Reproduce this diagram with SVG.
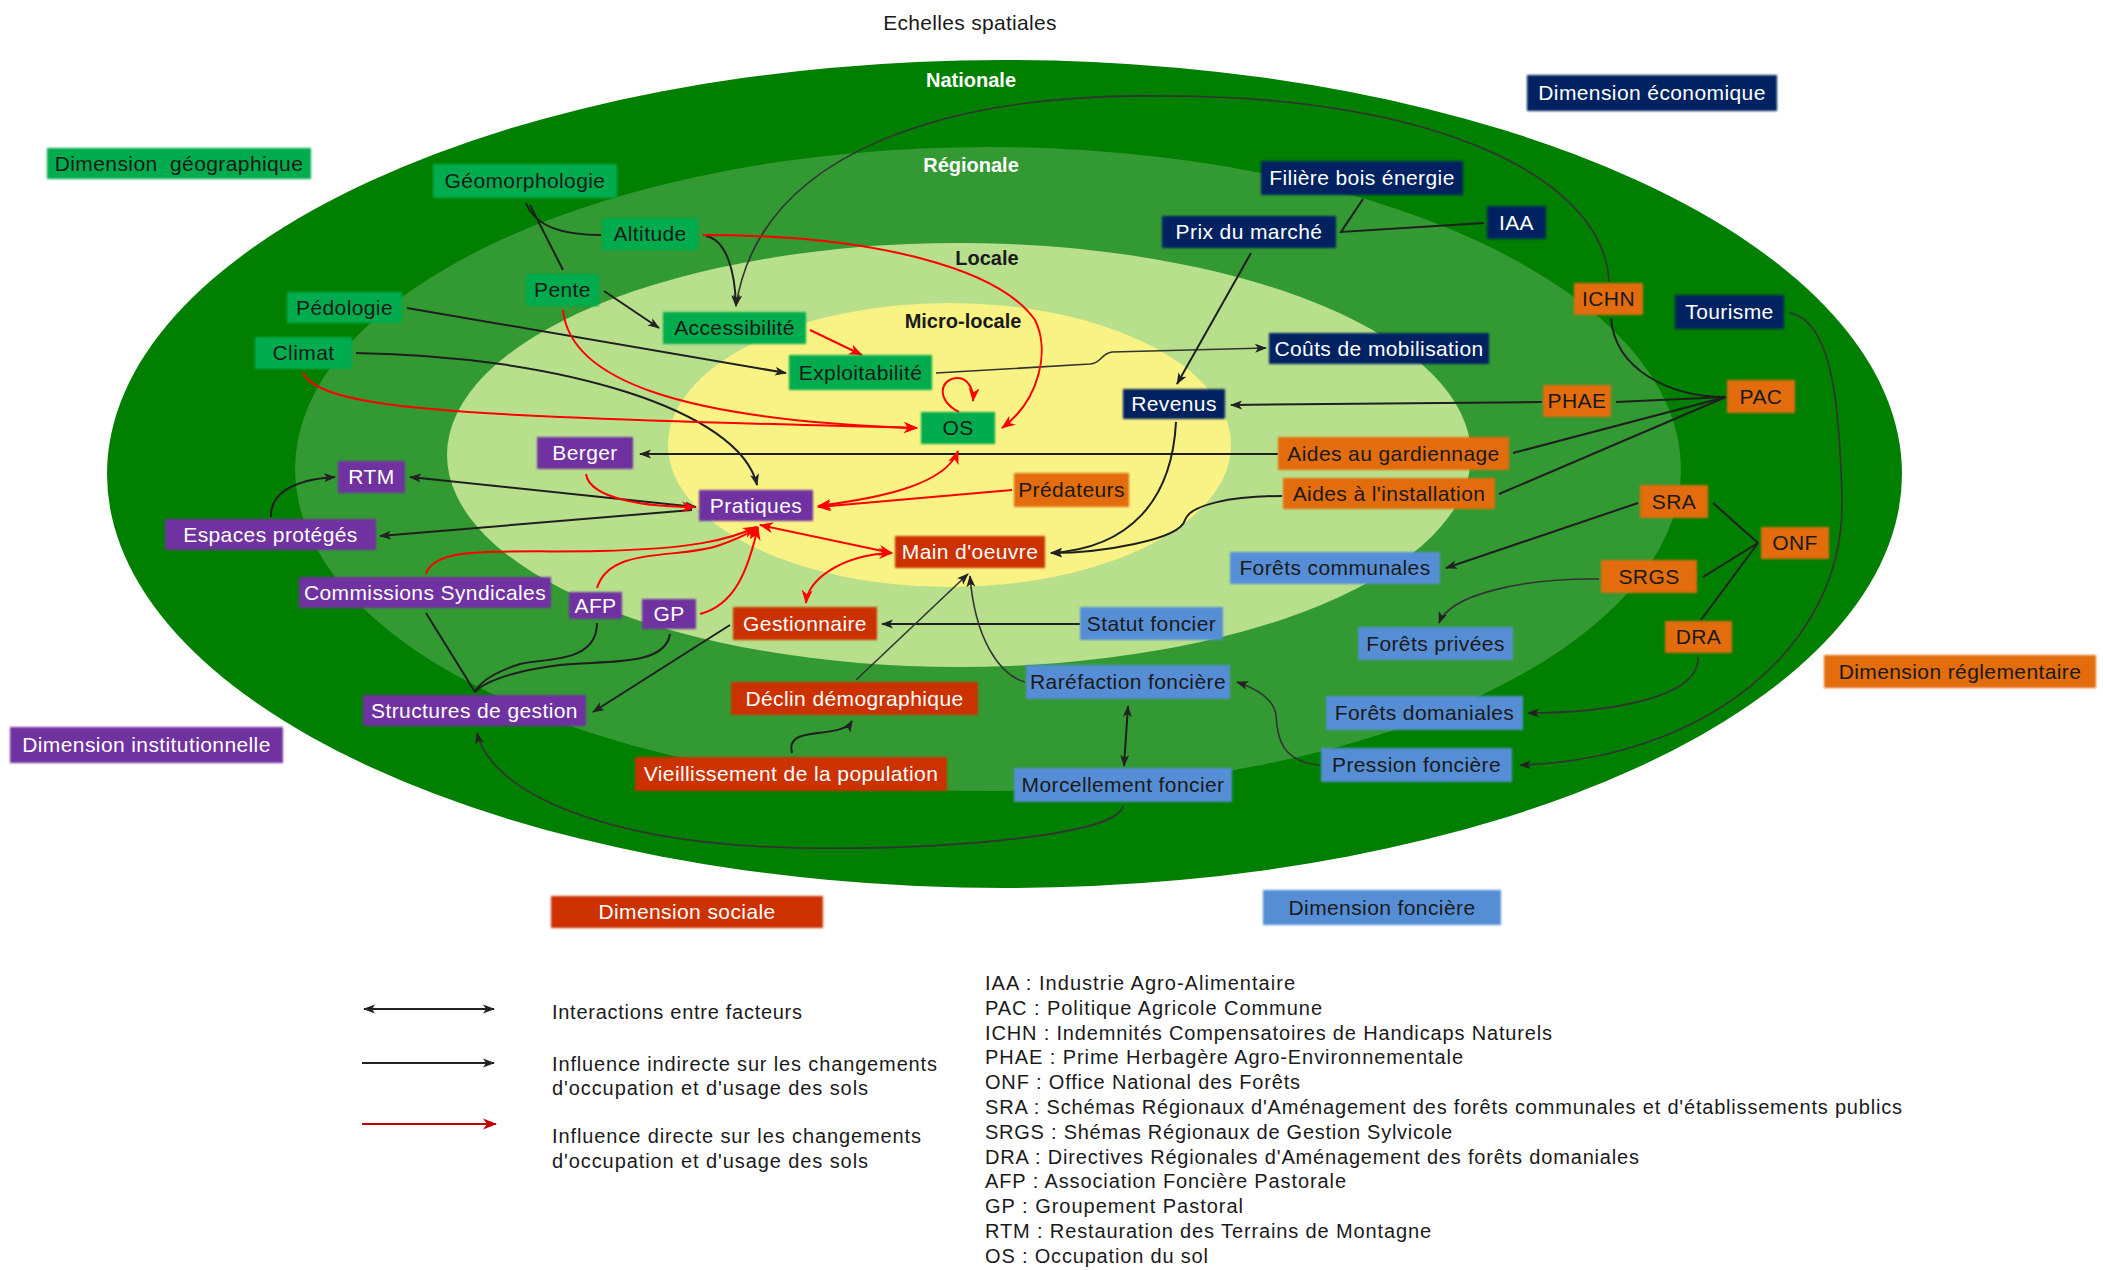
<svg xmlns="http://www.w3.org/2000/svg" width="2103" height="1270" viewBox="0 0 2103 1270">
<style>
text{font-family:"Liberation Sans",Arial,sans-serif;}
.lbl{font-size:21px;letter-spacing:0.4px;text-anchor:middle;}
.dk{fill:#1a1a1a;}
.wt{fill:#ffffff;}
.g rect{fill:#00AC4E;}
.e rect{fill:#002060;}
.o rect{fill:#E36C0A;}
.p rect{fill:#7030A0;}
.s rect{fill:#CC3300;}
.f rect{fill:#558ED5;}
.node rect{filter:url(#soft);}
.c{fill:none;stroke:#1f1f1f;stroke-width:2;}
.t{fill:none;stroke:#333333;stroke-width:1.6;}
.r{fill:none;stroke:#FF0000;stroke-width:2;}
.sc{font-size:20px;font-weight:bold;text-anchor:middle;}
.lg{font-size:20px;fill:#1a1a1a;}
</style>
<defs>
<filter id="soft" x="-5%" y="-20%" width="110%" height="140%"><feGaussianBlur stdDeviation="0.9"/></filter>
<marker id="ak" viewBox="0 0 12 10" refX="11" refY="5" markerWidth="12" markerHeight="10" markerUnits="userSpaceOnUse" orient="auto-start-reverse"><path d="M0,0.5 L12,5 L0,9.5 L3,5 z" fill="#222222"/></marker>
<marker id="ar" viewBox="0 0 14 12" refX="13" refY="6" markerWidth="14" markerHeight="12" markerUnits="userSpaceOnUse" orient="auto-start-reverse"><path d="M0,0.5 L14,6 L0,11.5 L4,6 z" fill="#FF0000"/></marker>
<marker id="arl" viewBox="0 0 14 12" refX="13" refY="6" markerWidth="14" markerHeight="12" markerUnits="userSpaceOnUse" orient="auto-start-reverse"><path d="M0,0.5 L14,6 L0,11.5 L4,6 z" fill="#C00000"/></marker>
</defs>
<rect x="0" y="0" width="2103" height="1270" fill="#ffffff"/>

<g id="scales">
<ellipse cx="1004.5" cy="474" rx="897.5" ry="414" fill="#007F00"/>
<ellipse cx="988" cy="469" rx="693" ry="322" fill="#339933"/>
<ellipse cx="959" cy="455" rx="512" ry="212" fill="#B8E08C"/>
<ellipse cx="949.5" cy="445" rx="281.5" ry="142" fill="#F8F384"/>
<text x="970" y="30" style="font-size:21px;letter-spacing:0.3px;text-anchor:middle;fill:#1a1a1a">Echelles spatiales</text>
<text class="sc" x="971" y="87" fill="#ffffff">Nationale</text>
<text class="sc" x="971" y="172" fill="#ffffff">Régionale</text>
<text class="sc" x="987" y="265" fill="#1a1a1a">Locale</text>
<text class="sc" x="963" y="328" fill="#1a1a1a">Micro-locale</text>
</g>

<g id="connectors">
<path class="c" d="M526,203 C536,228 565,235 601,235"/>
<path class="c" d="M530,205 L563,270"/>
<path class="c" d="M706,236 C726,240 735,270 736,306" marker-end="url(#ak)"/>
<path class="c" d="M604,291 L659,328" marker-end="url(#ak)"/>
<path class="c" d="M407,308 L786,373" marker-end="url(#ak)"/>
<path class="c" d="M356,353 C560,356 740,410 757,485" marker-end="url(#ak)"/>
<path class="t" d="M1609,282 C1605,180 1440,96 1164,96 C950,93 760,150 736,306" marker-end="url(#ak)"/>
<path class="t" d="M936,373 L1090,364 C1102,363 1100,354 1112,352 L1266,348" marker-end="url(#ak)"/>
<path class="c" d="M1251,253 L1177,384" marker-end="url(#ak)"/>
<path class="c" d="M1363,199 L1341,232 L1484,223"/>
<path class="c" d="M1611,318 C1615,370 1670,397 1726,397"/>
<path class="c" d="M1616,402 L1726,397"/>
<path class="c" d="M1726,397 L1513,453"/>
<path class="c" d="M1726,397 L1499,494"/>
<path class="c" d="M1542,402 L1231,405" marker-end="url(#ak)"/>
<path class="c" d="M1278,454 L640,454" marker-end="url(#ak)"/>
<path class="c" d="M1176,422 C1172,500 1130,548 1051,553" marker-end="url(#ak)"/>
<path class="c" d="M1282,496 C1230,496 1190,505 1185,520 C1180,540 1100,553 1051,553" marker-end="url(#ak)"/>
<path class="t" d="M1789,313 C1835,320 1840,420 1842,500 C1845,650 1700,760 1520,765" marker-end="url(#ak)"/>
<path class="c" d="M1713,503 L1758,543"/>
<path class="c" d="M1703,577 L1758,543"/>
<path class="c" d="M1701,620 L1758,543"/>
<path class="c" d="M1638,503 L1446,568" marker-end="url(#ak)"/>
<path class="t" d="M1599,579 C1520,578 1450,595 1439,623" marker-end="url(#ak)"/>
<path class="t" d="M1698,657 C1700,700 1600,713 1528,713" marker-end="url(#ak)"/>
<path class="c" d="M1080,624 L882,624" marker-end="url(#ak)"/>
<path class="t" d="M1025,682 C1000,675 975,640 970,576" marker-end="url(#ak)"/>
<path class="t" d="M856,680 L968,574" marker-end="url(#ak)"/>
<path class="c" d="M792,753 C788,738 800,735 818,733 C838,731 848,728 852,721" marker-end="url(#ak)"/>
<path class="t" d="M1320,765 C1280,762 1277,735 1276,715 C1274,700 1260,690 1237,682" marker-end="url(#ak)"/>
<path class="c" d="M1128,706 L1124,766" marker-start="url(#ak)" marker-end="url(#ak)"/>
<path class="t" d="M1123,806 C1118,835 950,850 804,848 C600,845 490,790 477,733" marker-end="url(#ak)"/>
<path class="c" d="M730,625 L593,712" marker-end="url(#ak)"/>
<path class="c" d="M426,613 L475,692"/>
<path class="c" d="M597,623 C597,665 540,658 520,664 C495,672 480,682 475,692"/>
<path class="c" d="M670,634 C665,668 600,660 560,665 C505,672 482,684 475,692"/>
<path class="c" d="M271,517 C270,495 290,480 335,477" marker-end="url(#ak)"/>
<path class="c" d="M410,477 L696,507" marker-start="url(#ak)" marker-end="url(#ak)"/>
<path class="c" d="M692,510 L380,536" marker-end="url(#ak)"/>

<path class="r" d="M703,235 C880,235 1000,270 1035,320 C1050,350 1040,400 1002,428" marker-end="url(#ar)"/>
<path class="r" d="M563,310 C570,380 680,420 917,428" marker-end="url(#ar)"/>
<path class="r" d="M303,373 C315,400 400,410 560,417 C700,423 850,426 917,428" marker-end="url(#ar)"/>
<path class="r" d="M810,330 L862,355" marker-end="url(#ar)"/>
<path class="r" d="M959,412 C935,400 940,378 958,378 C968,378 974,390 973,401" marker-end="url(#ar)"/>
<path class="r" d="M586,474 C590,500 650,507 695,507" marker-end="url(#ar)"/>
<path class="r" d="M818,506 C880,498 945,485 958,451" marker-start="url(#ar)" marker-end="url(#ar)"/>
<path class="r" d="M1012,490 L818,507" marker-end="url(#ar)"/>
<path class="r" d="M760,525 L892,553" marker-start="url(#ar)" marker-end="url(#ar)"/>
<path class="r" d="M892,553 C840,555 808,580 806,603" marker-start="url(#ar)" marker-end="url(#ar)"/>
<path class="r" d="M426,574 C435,545 500,553 600,551 C690,549 730,540 756,527" marker-end="url(#ar)"/>
<path class="r" d="M597,588 C610,545 680,560 720,545 C740,538 750,533 757,527" marker-end="url(#ar)"/>
<path class="r" d="M700,614 C735,605 748,570 758,527" marker-end="url(#ar)"/>
</g>

<g id="n-dimgeo" class="node g"><rect x="47" y="148" width="264" height="31"/><text class="lbl dk" x="179" y="170.5" style="white-space:pre">Dimension  géographique</text></g>
<g id="n-geomorph" class="node g"><rect x="433" y="164" width="184" height="34"/><text class="lbl dk" x="525" y="188">Géomorphologie</text></g>
<g id="n-altitude" class="node g"><rect x="602" y="218" width="96" height="32"/><text class="lbl dk" x="650" y="241">Altitude</text></g>
<g id="n-pente" class="node g"><rect x="526" y="274" width="73" height="32"/><text class="lbl dk" x="562.5" y="297">Pente</text></g>
<g id="n-pedologie" class="node g"><rect x="287" y="292" width="115" height="31"/><text class="lbl dk" x="344.5" y="314.5">Pédologie</text></g>
<g id="n-climat" class="node g"><rect x="255" y="337" width="97" height="32"/><text class="lbl dk" x="303.5" y="360">Climat</text></g>
<g id="n-access" class="node g"><rect x="663" y="312" width="143" height="32"/><text class="lbl dk" x="734.5" y="335">Accessibilité</text></g>
<g id="n-exploit" class="node g"><rect x="789" y="355" width="143" height="35"/><text class="lbl dk" x="860.5" y="379.5">Exploitabilité</text></g>
<g id="n-os" class="node g"><rect x="921" y="412" width="74" height="32"/><text class="lbl dk" x="958" y="435">OS</text></g>

<g id="n-dimeco" class="node e"><rect x="1527" y="75" width="250" height="36"/><text class="lbl wt" x="1652" y="100">Dimension économique</text></g>
<g id="n-filiere" class="node e"><rect x="1261" y="161" width="202" height="34"/><text class="lbl wt" x="1362" y="185">Filière bois énergie</text></g>
<g id="n-prix" class="node e"><rect x="1162" y="216" width="174" height="32"/><text class="lbl wt" x="1249" y="239">Prix du marché</text></g>
<g id="n-iaa" class="node e"><rect x="1487" y="206" width="59" height="33"/><text class="lbl wt" x="1516.5" y="229.5">IAA</text></g>
<g id="n-tourisme" class="node e"><rect x="1675" y="295" width="109" height="34"/><text class="lbl wt" x="1729.5" y="319">Tourisme</text></g>
<g id="n-couts" class="node e"><rect x="1269" y="333" width="220" height="31"/><text class="lbl wt" x="1379" y="355.5">Coûts de mobilisation</text></g>
<g id="n-revenus" class="node e"><rect x="1123" y="389" width="102" height="30"/><text class="lbl wt" x="1174" y="411">Revenus</text></g>

<g id="n-dimregl" class="node o"><rect x="1824" y="655" width="272" height="33"/><text class="lbl dk" x="1960" y="678.5">Dimension réglementaire</text></g>
<g id="n-ichn" class="node o"><rect x="1574" y="283" width="69" height="32"/><text class="lbl dk" x="1608.5" y="306">ICHN</text></g>
<g id="n-pac" class="node o"><rect x="1727" y="380" width="68" height="33"/><text class="lbl dk" x="1761" y="403.5">PAC</text></g>
<g id="n-phae" class="node o"><rect x="1543" y="385" width="68" height="32"/><text class="lbl dk" x="1577" y="408">PHAE</text></g>
<g id="n-aidesgard" class="node o"><rect x="1278" y="437" width="231" height="33"/><text class="lbl dk" x="1393.5" y="460.5">Aides au gardiennage</text></g>
<g id="n-predateurs" class="node o"><rect x="1014" y="473" width="115" height="34"/><text class="lbl dk" x="1071.5" y="497">Prédateurs</text></g>
<g id="n-aidesinst" class="node o"><rect x="1283" y="478" width="212" height="31"/><text class="lbl dk" x="1389" y="500.5">Aides à l'installation</text></g>
<g id="n-sra" class="node o"><rect x="1640" y="485" width="68" height="33"/><text class="lbl dk" x="1674" y="508.5">SRA</text></g>
<g id="n-onf" class="node o"><rect x="1761" y="527" width="68" height="32"/><text class="lbl dk" x="1795" y="550">ONF</text></g>
<g id="n-srgs" class="node o"><rect x="1601" y="560" width="96" height="33"/><text class="lbl dk" x="1649" y="583.5">SRGS</text></g>
<g id="n-dra" class="node o"><rect x="1665" y="621" width="67" height="32"/><text class="lbl dk" x="1698.5" y="644">DRA</text></g>

<g id="n-diminst" class="node p"><rect x="10" y="727" width="273" height="36"/><text class="lbl wt" x="146.5" y="752">Dimension institutionnelle</text></g>
<g id="n-berger" class="node p"><rect x="537" y="437" width="96" height="32"/><text class="lbl wt" x="585" y="460">Berger</text></g>
<g id="n-rtm" class="node p"><rect x="338" y="461" width="67" height="32"/><text class="lbl wt" x="371.5" y="484">RTM</text></g>
<g id="n-pratiques" class="node p"><rect x="699" y="490" width="114" height="31"/><text class="lbl wt" x="756" y="512.5">Pratiques</text></g>
<g id="n-espaces" class="node p"><rect x="165" y="519" width="211" height="31"/><text class="lbl wt" x="270.5" y="541.5">Espaces protégés</text></g>
<g id="n-cs" class="node p"><rect x="299" y="577" width="252" height="31"/><text class="lbl wt" x="425" y="599.5">Commissions Syndicales</text></g>
<g id="n-afp" class="node p"><rect x="569" y="592" width="53" height="27"/><text class="lbl wt" x="595.5" y="612.5">AFP</text></g>
<g id="n-gp" class="node p"><rect x="642" y="599" width="54" height="30"/><text class="lbl wt" x="669" y="621">GP</text></g>
<g id="n-structures" class="node p"><rect x="363" y="695" width="223" height="31"/><text class="lbl wt" x="474.5" y="717.5">Structures de gestion</text></g>

<g id="n-dimsoc" class="node s"><rect x="551" y="896" width="272" height="32"/><text class="lbl wt" x="687" y="919">Dimension sociale</text></g>
<g id="n-main" class="node s"><rect x="895" y="536" width="150" height="32"/><text class="lbl wt" x="970" y="559">Main d'oeuvre</text></g>
<g id="n-gestion" class="node s"><rect x="733" y="607" width="144" height="33"/><text class="lbl wt" x="805" y="630.5">Gestionnaire</text></g>
<g id="n-declin" class="node s"><rect x="731" y="682" width="247" height="33"/><text class="lbl wt" x="854.5" y="705.5">Déclin démographique</text></g>
<g id="n-vieil" class="node s"><rect x="635" y="757" width="312" height="34"/><text class="lbl wt" x="791" y="781">Vieillissement de la population</text></g>

<g id="n-dimfonc" class="node f"><rect x="1263" y="890" width="238" height="35"/><text class="lbl dk" x="1382" y="914.5">Dimension foncière</text></g>
<g id="n-foretscomm" class="node f"><rect x="1230" y="552" width="210" height="32"/><text class="lbl dk" x="1335" y="575">Forêts communales</text></g>
<g id="n-statut" class="node f"><rect x="1080" y="607" width="143" height="33"/><text class="lbl dk" x="1151.5" y="630.5">Statut foncier</text></g>
<g id="n-foretspriv" class="node f"><rect x="1358" y="627" width="155" height="33"/><text class="lbl dk" x="1435.5" y="650.5">Forêts privées</text></g>
<g id="n-rarefaction" class="node f"><rect x="1026" y="665" width="204" height="34"/><text class="lbl dk" x="1128" y="689">Raréfaction foncière</text></g>
<g id="n-foretsdom" class="node f"><rect x="1326" y="696" width="197" height="34"/><text class="lbl dk" x="1424.5" y="720">Forêts domaniales</text></g>
<g id="n-pression" class="node f"><rect x="1321" y="748" width="191" height="34"/><text class="lbl dk" x="1416.5" y="772">Pression foncière</text></g>
<g id="n-morcellement" class="node f"><rect x="1014" y="768" width="218" height="34"/><text class="lbl dk" x="1123" y="792">Morcellement foncier</text></g>

<g id="legend">
<line x1="364" y1="1009" x2="494" y2="1009" stroke="#222222" stroke-width="2" marker-start="url(#ak)" marker-end="url(#ak)"/>
<line x1="362" y1="1063" x2="494" y2="1063" stroke="#222222" stroke-width="2" marker-end="url(#ak)"/>
<line x1="362" y1="1124" x2="496" y2="1124" stroke="#C00000" stroke-width="2" marker-end="url(#arl)"/>
<text class="lg" x="552" y="1019" textLength="250">Interactions entre facteurs</text>
<text class="lg" x="552" y="1071" textLength="385">Influence indirecte sur les changements</text>
<text class="lg" x="552" y="1095" textLength="316">d'occupation et d'usage des sols</text>
<text class="lg" x="552" y="1143" textLength="369">Influence directe sur les changements</text>
<text class="lg" x="552" y="1168" textLength="316">d'occupation et d'usage des sols</text>
</g>

<g id="abbreviations">
<text class="lg" x="985" y="990" textLength="310">IAA  : Industrie  Agro-Alimentaire</text>
<text class="lg" x="985" y="1015" textLength="337">PAC  : Politique Agricole Commune</text>
<text class="lg" x="985" y="1040" textLength="567">ICHN : Indemnités Compensatoires de Handicaps Naturels</text>
<text class="lg" x="985" y="1064" textLength="478">PHAE : Prime Herbagère Agro-Environnementale</text>
<text class="lg" x="985" y="1089" textLength="315">ONF : Office National des Forêts</text>
<text class="lg" x="985" y="1114" textLength="917">SRA : Schémas Régionaux d'Aménagement des forêts communales et d'établissements publics</text>
<text class="lg" x="985" y="1139" textLength="467">SRGS : Shémas Régionaux de Gestion Sylvicole</text>
<text class="lg" x="985" y="1164" textLength="654">DRA : Directives Régionales d'Aménagement des forêts domaniales</text>
<text class="lg" x="985" y="1188" textLength="361">AFP  : Association Foncière Pastorale</text>
<text class="lg" x="985" y="1213" textLength="258">GP : Groupement Pastoral</text>
<text class="lg" x="985" y="1238" textLength="446">RTM : Restauration des Terrains de Montagne</text>
<text class="lg" x="985" y="1263" textLength="223">OS : Occupation du sol</text>
</g>
</svg>
